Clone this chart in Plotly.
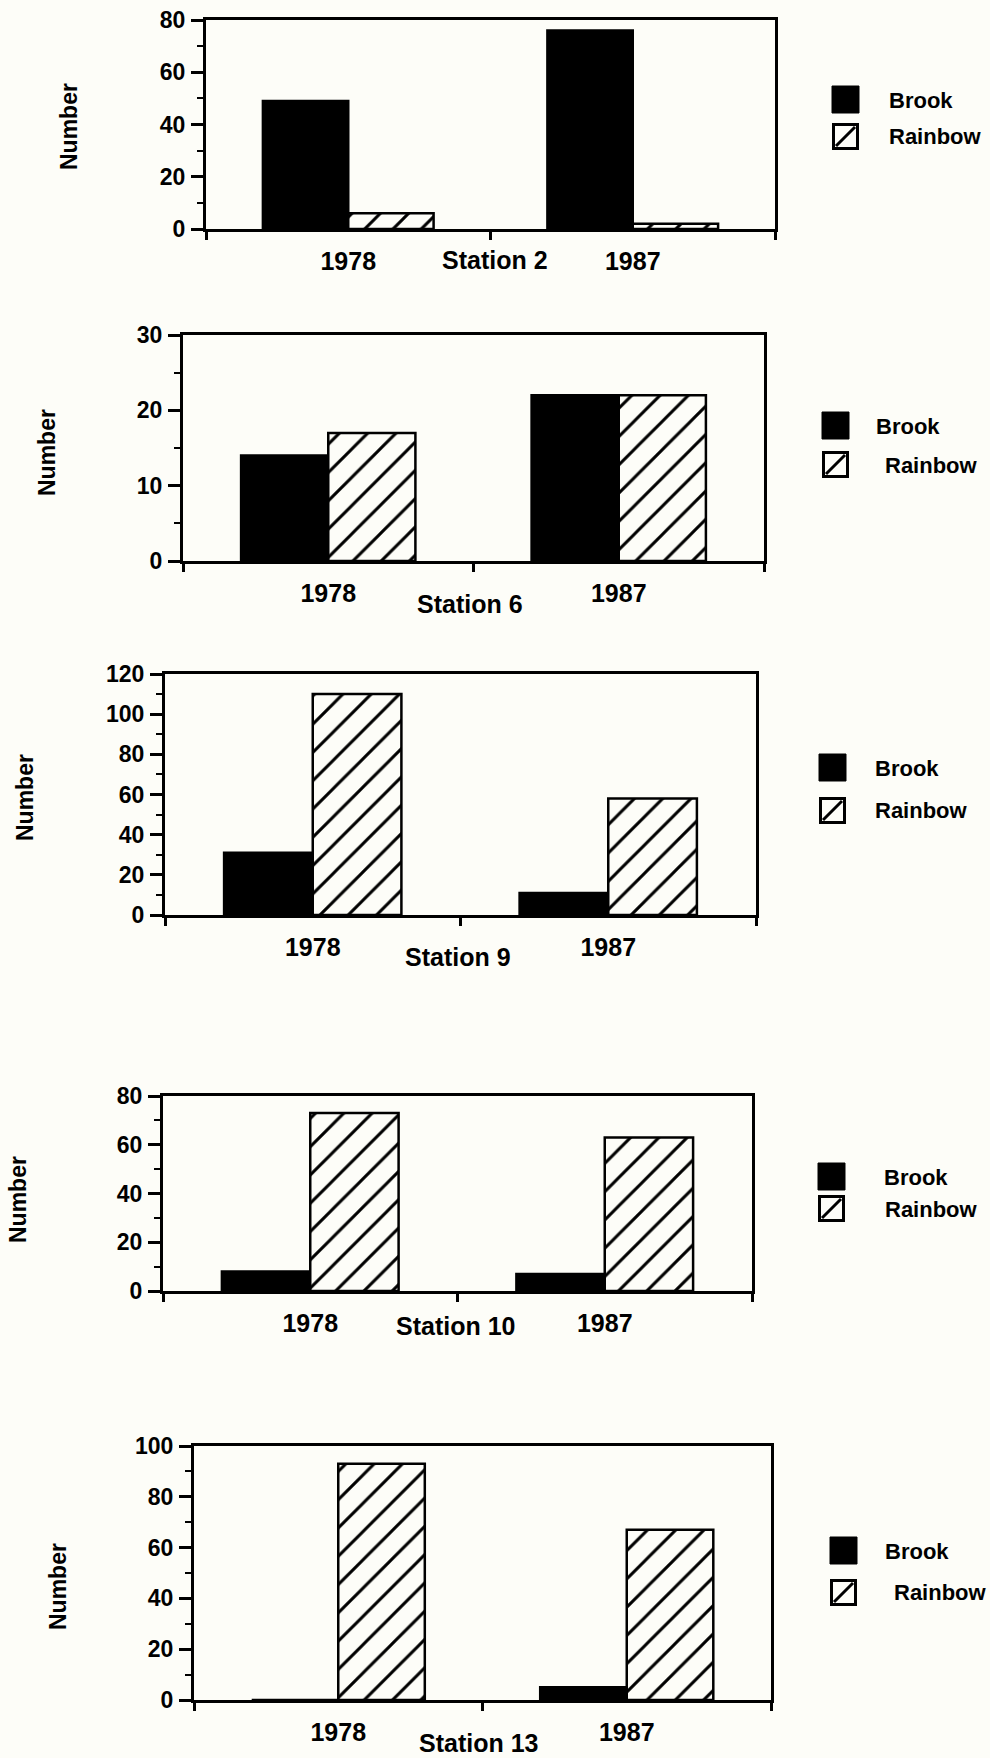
import plotly.graph_objects as go

# ---- data -------------------------------------------------------------
stations = ["Station 2", "Station 6", "Station 9", "Station 10", "Station 13"]
years = ["1978", "1987"]
series = ["Brook", "Rainbow"]
brook = [[49, 76], [14, 22], [31, 11], [8, 7], [0, 5]]
rainbow = [[6, 2], [17, 22], [110, 58], [73, 63], [93, 67]]
y_max = [80, 30, 120, 80, 100]
y_step = [20, 10, 20, 20, 20]

# ---- page geometry (pixels) -------------------------------------------
W, H = 990, 1758
BG = "#fdfdf8"
FONT = "Liberation Sans, Arial, Helvetica, sans-serif"

# plot boxes: left, right, top, bottom
boxes = [
    (206, 775, 20, 229),
    (183, 764, 335, 561),
    (165, 756, 674, 915),
    (163, 752, 1096, 1291),
    (194, 771, 1446, 1700),
]
# "Number" label centre
ylab_pos = [(69, 127), (47, 453), (25, 798), (18, 1200), (58, 1587)]
# station caption centre
cap_pos = [(495, 260), (470, 604), (458, 957), (455, 1326), (478, 1743)]
# legend: swatch left, brook swatch top, rainbow swatch top,
#         brook text (x, y), rainbow text (x, y)
legends = [
    (832, 86, 123, (887, 100), (887, 137)),
    (822, 412, 451, (874, 426), (883, 465)),
    (819, 754, 797, (873, 768), (873, 811)),
    (818, 1163, 1195, (882, 1177), (883, 1209)),
    (830, 1537, 1579, (883, 1551), (892, 1592)),
]
SW = 27  # swatch size


def px(x):
    return x / W


def py(y):
    return 1 - y / H


def tfont(size):
    return dict(family=FONT, size=size, color="black", weight="bold")


fig = go.Figure()
annotations = []
shapes = []

for i in range(len(stations)):
    n = "" if i == 0 else str(i + 1)
    xa, ya = "x" + n, "y" + n
    xcat = [0.5, 1.5]

    fig.add_trace(go.Bar(
        x=xcat, y=brook[i], name=series[0], xaxis=xa, yaxis=ya,
        marker=dict(color="black", line=dict(color="black", width=2.5)),
        showlegend=False,
    ))
    fig.add_trace(go.Bar(
        x=xcat, y=rainbow[i], name=series[1], xaxis=xa, yaxis=ya,
        marker=dict(
            color=BG,
            line=dict(color="black", width=2.5),
            pattern=dict(shape="/", fgcolor="black", fgopacity=1, bgcolor=BG,
                         size=20, solidity=0.15),
        ),
        showlegend=False,
    ))

    l, r, t, b = boxes[i]
    fig.update_layout(**{
        "xaxis" + n: dict(
            domain=[px(l), px(r)], anchor=ya, range=[0, 2], automargin=False,
            tickvals=xcat, ticktext=years, ticks="",
            ticklabelstandoff=8,
            tickfont=tfont(25),
            showline=True, mirror=True, linecolor="black", linewidth=3,
            showgrid=False, zeroline=False, fixedrange=True,
            minor=dict(tickmode="array", tickvals=[0, 1, 2],
                       ticks="outside", ticklen=8, tickwidth=2.5,
                       tickcolor="black", showgrid=False),
        ),
        "yaxis" + n: dict(
            domain=[py(b), py(t)], anchor=xa, range=[0, y_max[i]], automargin=False,
            dtick=y_step[i], tick0=0, ticks="outside", ticklen=12,
            tickwidth=2.5, tickcolor="black", ticklabelstandoff=1,
            tickfont=tfont(23),
            showline=True, mirror=True, linecolor="black", linewidth=3,
            showgrid=False, zeroline=False, fixedrange=True,
            minor=dict(dtick=y_step[i] / 2, tick0=0, ticks="outside",
                       ticklen=6, tickwidth=2, tickcolor="black",
                       showgrid=False),
        ),
    })

    # axis caption and station caption
    lx, ly = ylab_pos[i]
    annotations.append(dict(
        text="Number", x=px(lx), y=py(ly), xref="paper", yref="paper",
        textangle=-90, showarrow=False, xanchor="center", yanchor="middle",
        font=tfont(23),
    ))
    cx, cy = cap_pos[i]
    annotations.append(dict(
        text=stations[i], x=px(cx), y=py(cy), xref="paper", yref="paper",
        showarrow=False, xanchor="center", yanchor="middle",
        font=tfont(25),
    ))

    # legend block
    sx, by, ry, bt, rt = legends[i]
    shapes.append(dict(
        type="rect", xref="paper", yref="paper",
        x0=px(sx), x1=px(sx + SW), y0=py(by + SW), y1=py(by),
        fillcolor="black", line=dict(color="black", width=1),
    ))
    shapes.append(dict(
        type="rect", xref="paper", yref="paper",
        x0=px(sx + 1.5), x1=px(sx + SW - 1.5), y0=py(ry + SW - 1.5), y1=py(ry + 1.5),
        fillcolor=BG, line=dict(color="black", width=3),
    ))
    shapes.append(dict(
        type="line", xref="paper", yref="paper",
        x0=px(sx + 4), y0=py(ry + SW - 4), x1=px(sx + SW - 4), y1=py(ry + 4),
        line=dict(color="black", width=3),
    ))
    for (tx, ty), name in ((bt, series[0]), (rt, series[1])):
        annotations.append(dict(
            text=name, x=px(tx), y=py(ty), xref="paper", yref="paper",
            showarrow=False, xanchor="left", yanchor="middle",
            font=tfont(22),
        ))

fig.update_layout(
    width=W, height=H,
    margin=dict(l=0, r=0, t=0, b=0, autoexpand=False),
    paper_bgcolor=BG, plot_bgcolor=BG,
    barmode="group", bargap=0.4, bargroupgap=0,
    showlegend=False,
    annotations=annotations, shapes=shapes,
    font=dict(family=FONT, color="black"),
)

# page body without default margin so the figure sits at the window origin
fig.write_html(
    "out.html",
    config={"displayModeBar": False},
    post_script="document.body.style.margin='0';",
)
